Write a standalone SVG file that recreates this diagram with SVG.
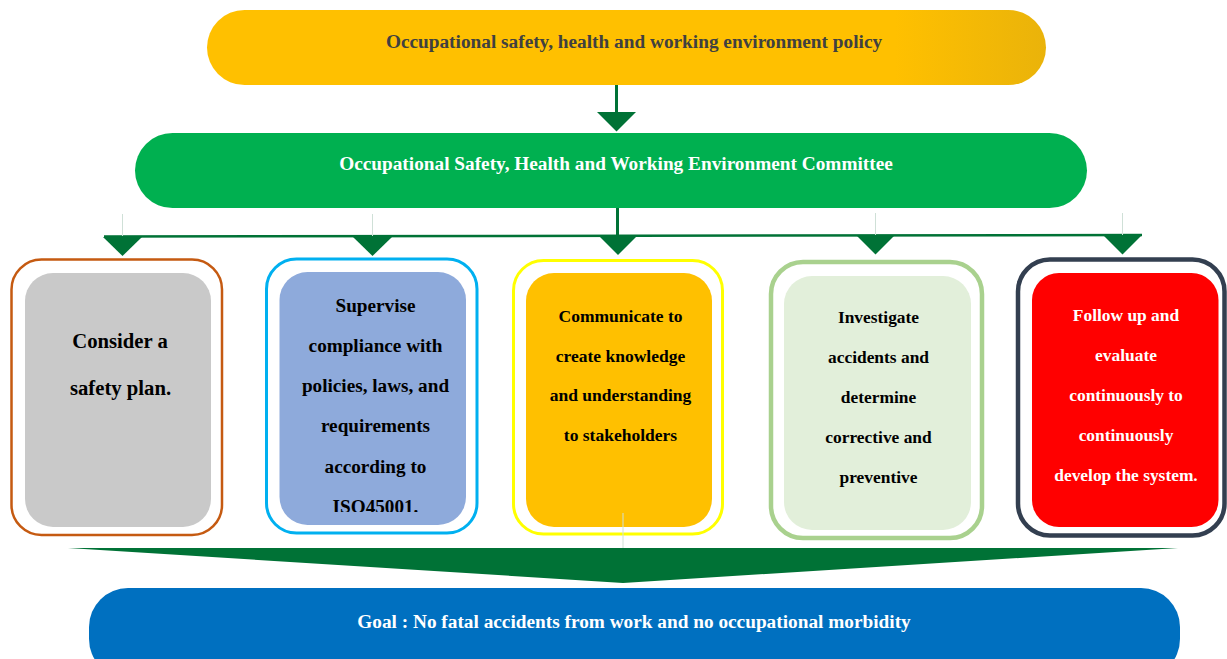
<svg xmlns="http://www.w3.org/2000/svg" width="1227" height="659" viewBox="0 0 1227 659">
  <defs>
    <linearGradient id="gPolicy" x1="0" y1="0" x2="1" y2="0">
      <stop offset="0" stop-color="#FFC000"/>
      <stop offset="0.82" stop-color="#FFC000"/>
      <stop offset="1" stop-color="#EAB30A"/>
    </linearGradient>
    <clipPath id="clip2">
      <rect x="270" y="270" width="210" height="242"/>
    </clipPath>
    <style>
      .t { font-family: "Liberation Serif", "Times New Roman", serif; font-weight: bold; text-anchor: middle; }
      .big { font-size: 19.3px; }
      .dk { fill: #007236; }
      .ln { stroke: #007236; fill: none; }
      .faint { stroke: #CFE0D7; stroke-width: 1; fill: none; }
    </style>
  </defs>
  <rect width="1227" height="659" fill="#FFFFFF"/>

  <g id="connectors">
    <line class="ln" x1="616.5" y1="84" x2="616.5" y2="113" stroke-width="3"/>
    <polygon class="dk" points="597,112 636,112 616.5,131.5"/>
    <line class="ln" x1="617.5" y1="208" x2="617.5" y2="236" stroke-width="3"/>
    <line class="ln" x1="104" y1="236.5" x2="1142" y2="235" stroke-width="2.5"/>
    <line class="faint" x1="122.5" y1="214" x2="122.5" y2="236"/>
    <line class="faint" x1="372.5" y1="214" x2="372.5" y2="236"/>
    <line class="faint" x1="875.5" y1="213" x2="875.5" y2="235"/>
    <line class="faint" x1="1122.5" y1="213" x2="1122.5" y2="235"/>
    <polygon class="dk" points="103,237 142,237 122.5,256"/>
    <polygon class="dk" points="353,237 392,237 372.5,256"/>
    <polygon class="dk" points="599,236 637,236 618,255"/>
    <polygon class="dk" points="856,235 895,235 875.5,254.5"/>
    <polygon class="dk" points="1103,235 1142,235 1122.5,254.5"/>
    <polygon class="dk" points="68,548 1178,548 623,583"/>
  </g>

  <g id="policy">
    <rect x="207" y="10" width="839" height="75" rx="37.5" fill="url(#gPolicy)"/>
    <text class="t big" x="634" y="47.5" fill="#404040">Occupational safety, health and working environment policy</text>
  </g>

  <g id="committee">
    <rect x="135" y="133" width="952" height="75" rx="37.5" fill="#00B050"/>
    <text class="t big" x="616" y="170" fill="#FFFFFF">Occupational Safety, Health and Working Environment Committee</text>
  </g>

  <g id="box1">
    <rect x="11.5" y="259.5" width="210.5" height="275.5" rx="30" fill="#FFFFFF" stroke="#C55A11" stroke-width="2.5"/>
    <rect x="25" y="273" width="186" height="254" rx="28" fill="#C9C9C9"/>
    <text class="t" font-size="20.7" x="120" y="347.5" fill="#000000">Consider a</text>
    <text class="t" font-size="20.7" x="120.5" y="395" fill="#000000">safety plan.</text>
  </g>

  <g id="box2">
    <rect x="266.5" y="259" width="210.5" height="274" rx="30" fill="#FFFFFF" stroke="#00B0F0" stroke-width="3"/>
    <rect x="279.5" y="272" width="186.5" height="253" rx="28" fill="#8EAADB"/>
    <g clip-path="url(#clip2)" fill="#000000">
      <text class="t" font-size="19.2" x="375.5" y="311.5">Supervise</text>
      <text class="t" font-size="19.2" x="375.5" y="351.8">compliance with</text>
      <text class="t" font-size="19.2" x="375.5" y="392.1">policies, laws, and</text>
      <text class="t" font-size="19.2" x="375.5" y="432.4">requirements</text>
      <text class="t" font-size="19.2" x="375.5" y="472.7">according to</text>
      <text class="t" font-size="19.2" x="375.5" y="513">ISO45001.</text>
    </g>
  </g>

  <g id="box3">
    <rect x="513.5" y="260.5" width="209" height="273.5" rx="30" fill="#FFFFFF" stroke="#FFFF00" stroke-width="3"/>
    <rect x="526" y="273" width="186" height="254" rx="28" fill="#FFC000"/>
    <g fill="#000000">
      <text class="t" font-size="17.5" x="620.5" y="321.5">Communicate to</text>
      <text class="t" font-size="17.5" x="620.5" y="361.5">create knowledge</text>
      <text class="t" font-size="17.5" x="620.5" y="400.5">and understanding</text>
      <text class="t" font-size="17.5" x="620.5" y="440.5">to stakeholders</text>
    </g>
    <line class="faint" x1="623" y1="513" x2="623" y2="548"/>
  </g>

  <g id="box4">
    <rect x="771" y="262" width="211" height="276" rx="32" fill="#FFFFFF" stroke="#A9D18E" stroke-width="4.5"/>
    <rect x="784" y="276" width="187" height="254" rx="28" fill="#E2EFDA"/>
    <g fill="#000000">
      <text class="t" font-size="17.4" x="878.5" y="323">Investigate</text>
      <text class="t" font-size="17.4" x="878.5" y="363">accidents and</text>
      <text class="t" font-size="17.4" x="878.5" y="403">determine</text>
      <text class="t" font-size="17.4" x="878.5" y="443">corrective and</text>
      <text class="t" font-size="17.4" x="878.5" y="483">preventive</text>
    </g>
  </g>

  <g id="box5">
    <rect x="1018" y="259.5" width="206.5" height="276" rx="32" fill="#FFFFFF" stroke="#333F50" stroke-width="4.5"/>
    <rect x="1032" y="273" width="186.5" height="254" rx="27" fill="#FF0000"/>
    <g fill="#FFFFFF">
      <text class="t" font-size="17.4" x="1126" y="321">Follow up and</text>
      <text class="t" font-size="17.4" x="1126" y="361">evaluate</text>
      <text class="t" font-size="17.4" x="1126" y="400.5">continuously to</text>
      <text class="t" font-size="17.4" x="1126" y="440.5">continuously</text>
      <text class="t" font-size="17.4" x="1126" y="480.5">develop the system.</text>
    </g>
  </g>

  <g id="goal">
    <rect x="89" y="588" width="1091" height="90" rx="39" fill="#0070C0"/>
    <text class="t big" x="634" y="627.5" fill="#FFFFFF">Goal : No fatal accidents from work and no occupational morbidity</text>
  </g>
</svg>
